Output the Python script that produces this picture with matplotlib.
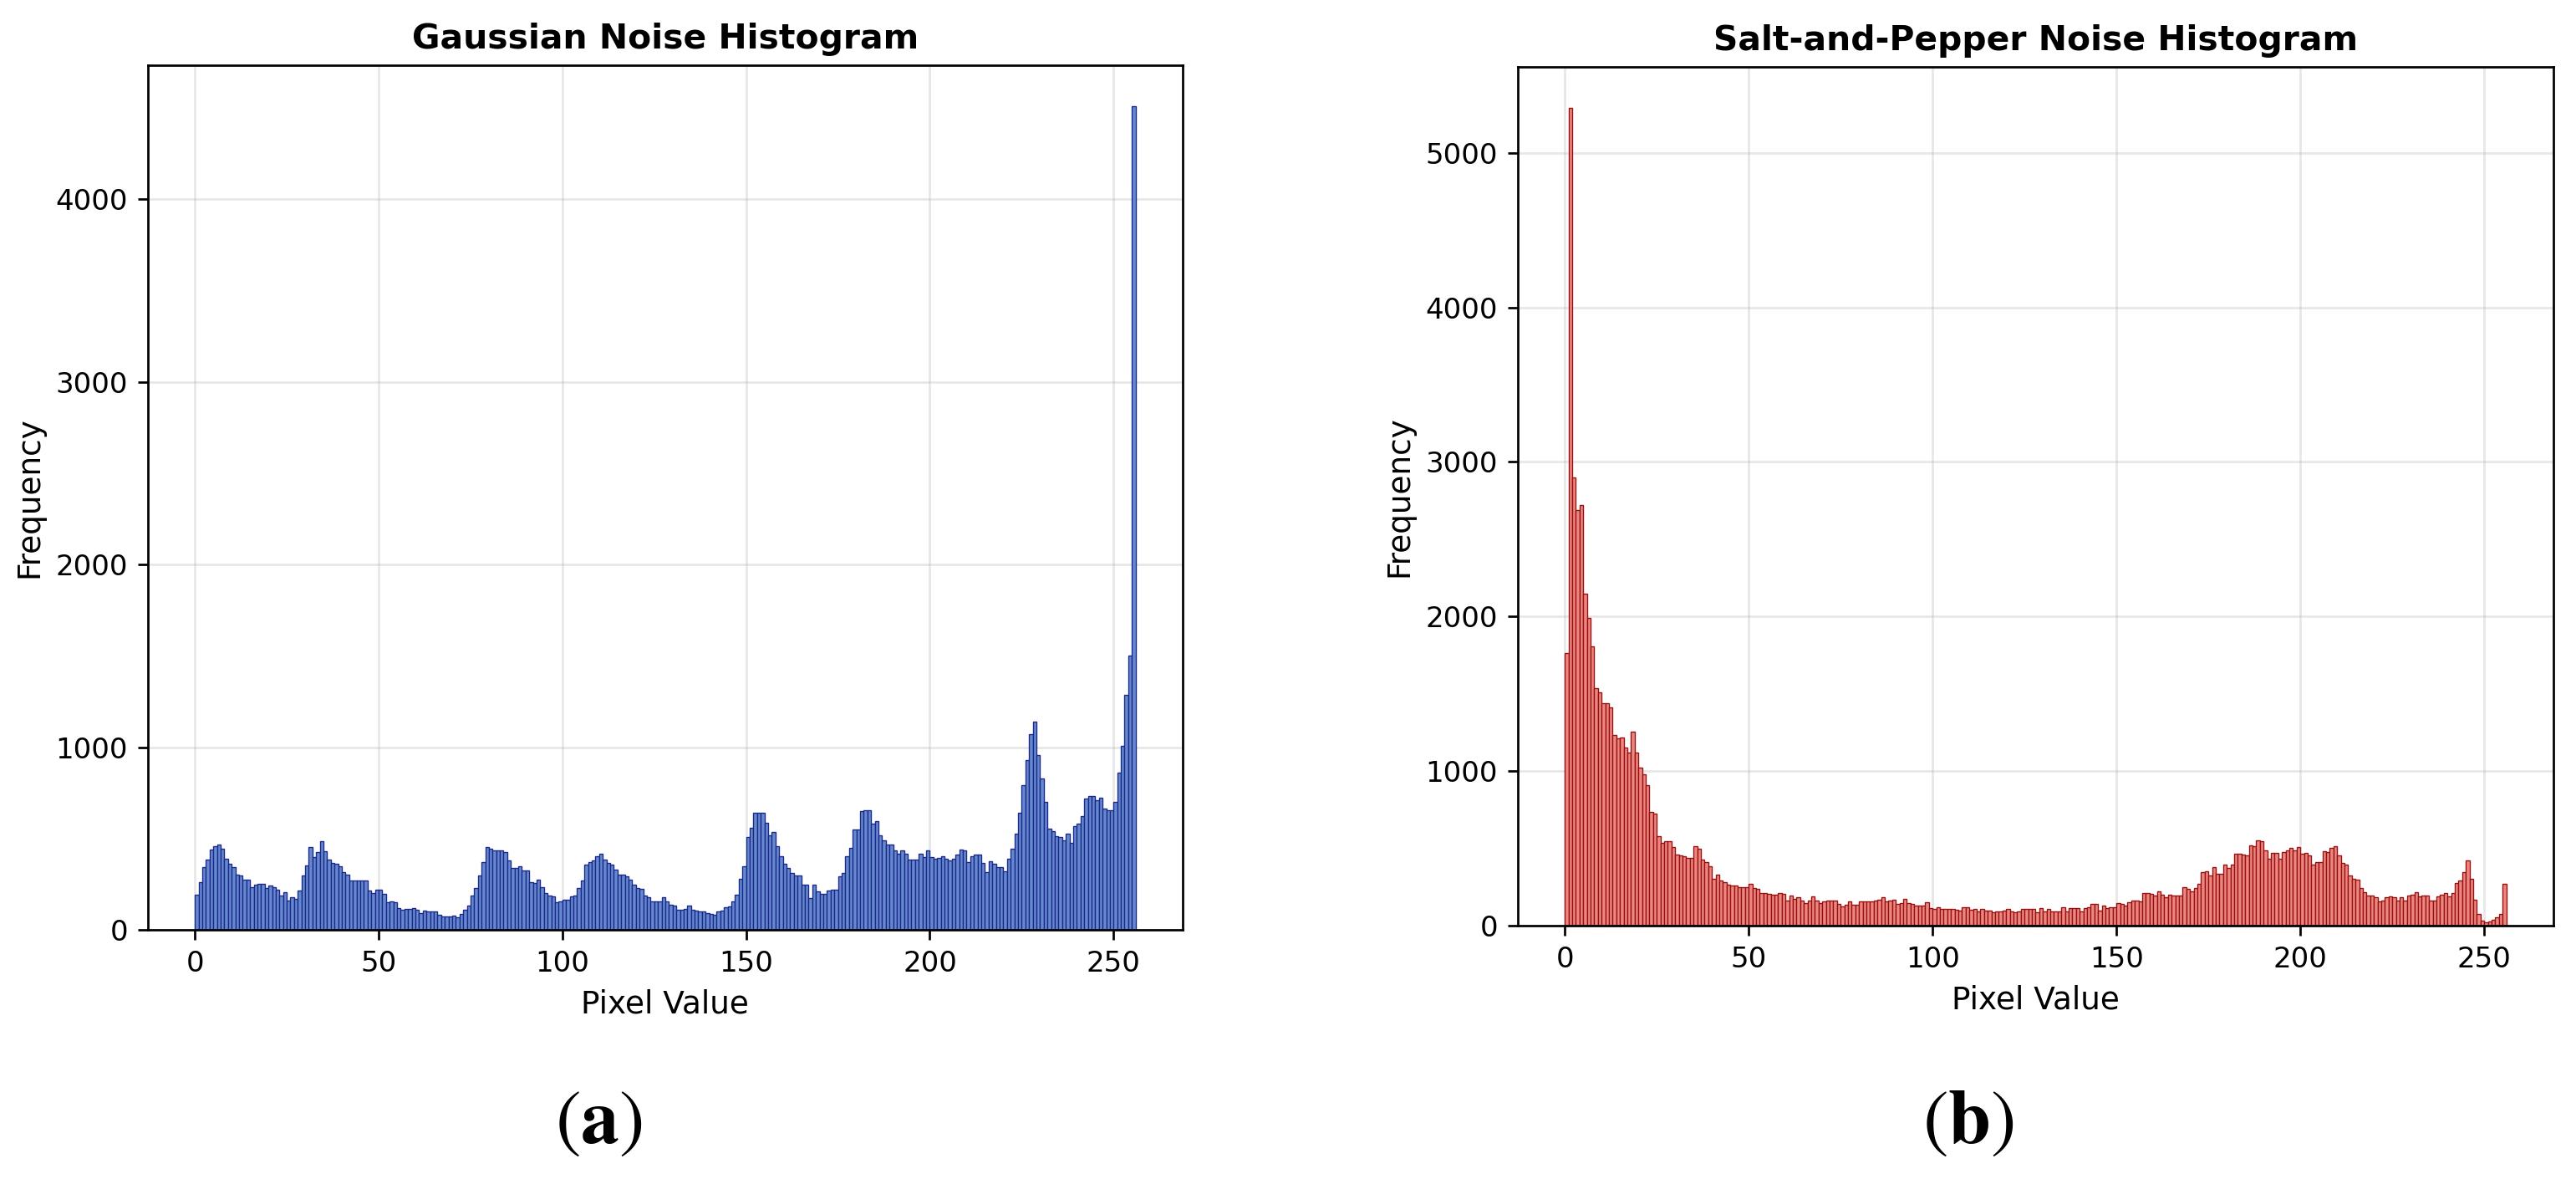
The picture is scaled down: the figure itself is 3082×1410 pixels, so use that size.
import numpy as np
import matplotlib
matplotlib.use("Agg")
import matplotlib.pyplot as plt

# Histogram counts per pixel value (0..255)
gauss_counts = [
    192, 261, 343, 384, 438, 458, 468, 445, 389, 361, 343, 304, 296, 276, 273, 235,
    249, 250, 250, 227, 243, 233, 220, 187, 207, 161, 180, 169, 217, 296, 353, 453,
    399, 427, 484, 430, 384, 366, 361, 350, 315, 304, 272, 272, 272, 272, 272, 215,
    200, 221, 218, 197, 150, 154, 150, 120, 112, 115, 115, 118, 112, 92, 104, 100,
    100, 100, 81, 74, 74, 74, 77, 71, 86, 108, 131, 189, 230, 300, 369, 455,
    442, 435, 435, 435, 424, 378, 341, 338, 347, 327, 327, 261, 255, 276, 235, 200,
    189, 184, 150, 155, 163, 166, 184, 186, 230, 270, 358, 373, 381, 404, 415, 386,
    366, 355, 332, 304, 301, 292, 273, 246, 230, 223, 189, 181, 154, 155, 158, 177,
    155, 138, 131, 112, 109, 117, 132, 108, 104, 100, 100, 94, 89, 84, 100, 104,
    123, 127, 158, 194, 278, 350, 507, 558, 639, 642, 642, 588, 516, 538, 458, 404,
    363, 338, 312, 300, 300, 246, 246, 174, 246, 212, 197, 196, 215, 222, 218, 294,
    311, 403, 449, 549, 549, 649, 655, 655, 583, 595, 517, 491, 468, 468, 434, 419,
    433, 419, 387, 383, 383, 419, 399, 433, 399, 388, 394, 403, 388, 379, 388, 414,
    440, 433, 371, 403, 410, 410, 368, 314, 376, 360, 342, 342, 322, 388, 442, 525,
    640, 793, 931, 1071, 1140, 956, 828, 702, 555, 541, 514, 509, 491, 525, 475, 567,
    583, 624, 721, 733, 733, 710, 724, 664, 655, 655, 702, 859, 1005, 1288, 1500, 4507,
]

sp_counts = [
    1762, 5291, 2899, 2687, 2721, 2149, 1988, 1807, 1533, 1506, 1437, 1437, 1413, 1232, 1210, 1215,
    1150, 1117, 1252, 1117, 1019, 978, 908, 736, 725, 580, 534, 545, 545, 509, 456, 455,
    449, 438, 438, 510, 497, 425, 407, 380, 302, 331, 293, 280, 262, 259, 259, 250,
    250, 250, 268, 244, 235, 208, 208, 204, 199, 199, 208, 203, 163, 195, 172, 184,
    163, 145, 163, 186, 159, 145, 154, 159, 159, 159, 141, 123, 136, 154, 132, 136,
    154, 154, 154, 154, 159, 166, 181, 154, 163, 166, 139, 145, 170, 145, 139, 130,
    130, 130, 148, 112, 108, 116, 108, 108, 105, 108, 103, 94, 116, 116, 103, 108,
    90, 105, 94, 94, 87, 92, 92, 96, 105, 92, 83, 90, 105, 105, 105, 105,
    83, 114, 92, 105, 92, 90, 90, 118, 92, 114, 114, 114, 92, 114, 118, 137,
    137, 96, 127, 110, 118, 119, 146, 141, 127, 150, 159, 159, 156, 210, 210, 204,
    195, 222, 201, 183, 201, 192, 192, 192, 246, 235, 222, 244, 268, 344, 349, 325,
    376, 336, 336, 391, 373, 391, 463, 463, 458, 452, 517, 512, 553, 544, 488, 434,
    467, 470, 430, 476, 488, 499, 485, 506, 463, 470, 454, 391, 409, 409, 481, 476,
    499, 515, 454, 403, 391, 325, 300, 295, 240, 217, 192, 195, 181, 156, 163, 183,
    186, 183, 163, 183, 163, 195, 201, 213, 186, 192, 192, 163, 163, 190, 201, 210,
    190, 210, 277, 289, 344, 418, 300, 168, 72, 33, 20, 27, 38, 54, 74, 268,
]

pixel_values = np.arange(256)

TITLES = ["Gaussian Noise Histogram", "Salt-and-Pepper Noise Histogram"]
PANEL_TAGS = [r"$(\mathbf{a})$", r"$(\mathbf{b})$"]
FACE = ["#6589cf", "#ec8680"]
EDGE = ["#1a2888", "#961010"]

plt.rcParams["mathtext.fontset"] = "stix"

DPI = 245
fig = plt.figure(figsize=(3082 / DPI, 1410 / DPI), dpi=DPI)

ax_a = fig.add_axes([0.0574, 0.2113, 0.4017, 0.7334])
ax_b = fig.add_axes([0.5892, 0.2151, 0.4020, 0.7281])

for ax, counts, title, fc, ec in zip([ax_a, ax_b], [gauss_counts, sp_counts],
                                     TITLES, FACE, EDGE):
    ax.bar(pixel_values, counts, width=1.0, align="edge",
           color=fc, edgecolor=ec, linewidth=0.4)
    ax.set_title(title, fontsize=12, fontweight="bold")
    ax.set_xlabel("Pixel Value", fontsize=11)
    ax.set_ylabel("Frequency", fontsize=11)
    ax.tick_params(labelsize=10)
    ax.grid(True, alpha=0.3)
    ax.set_axisbelow(True)
    ax.set_ylim(0, max(counts) * 1.05)

# panel tags below each plot, as in the paper figure
for ax, tag in zip([ax_a, ax_b], PANEL_TAGS):
    bb = ax.get_position()
    xc = (bb.x0 + bb.x1) / 2 - 80 / 3082
    fig.text(xc, 0.049, tag, ha="center", va="center", fontsize=27)

fig.savefig("out.png", dpi=DPI, facecolor="white")
